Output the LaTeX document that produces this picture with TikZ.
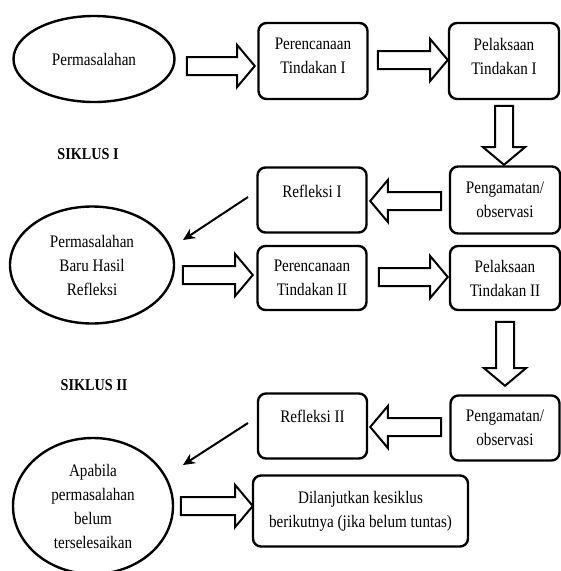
\documentclass[tikz,border=0pt]{standalone}
\usepackage{fontspec}
\setmainfont{Liberation Serif}[FakeStretch=0.86]
\usetikzlibrary{shapes.geometric,shapes.arrows,arrows.meta}
\begin{document}
\begin{tikzpicture}[x=1pt,y=-1pt,
  txt/.style={font=\fontsize{17.6}{24}\selectfont, align=center},
  box/.style={txt, draw, line width=2.4pt, rounded corners=8pt, inner sep=0pt},
  oval/.style={txt, ellipse, draw, line width=2.4pt, inner sep=0pt},
  fat/.style={single arrow, draw, line width=2pt, single arrow tip angle=100,
    single arrow head extend=12pt, minimum width=40pt, inner xsep=0pt, inner ysep=8pt,
    minimum height=#1},
  thin/.style={line width=2pt, -{Stealth[length=12pt,width=11pt]}},
  cyc/.style={font=\fontsize{16.5}{18}\selectfont\bfseries}
]
\useasboundingbox (0,0) rectangle (561,571);

% row 1
\node[oval, minimum width=161pt, minimum height=86pt] (e1) at (94,59) {Permasalahan};
\node[box, minimum width=109pt, minimum height=76pt, text depth=10pt] (b1) at (313,61) {Perencanaan\\Tindakan I};
\node[box, minimum width=110pt, minimum height=76pt, text depth=10pt] (b2) at (504,61) {Pelaksaan\\Tindakan I};

\node[fat=68pt] (a1) at (217,66) {};
\node[fat=70pt] (a2) at (409,60) {};
\node[fat=59pt, rotate=-90] (a3) at (504,131.5) {};

\node[cyc] (s1) at (88,154) {SIKLUS I};

% row 2
\node[box, minimum width=109pt, minimum height=65pt, text depth=17pt] (r1) at (312,200) {Refleksi I};
\node[box, minimum width=110pt, minimum height=67pt] (p1) at (505,200) {Pengamatan/\\observasi};
\node[fat=71pt, rotate=180] (a4) at (409.5,201) {};

\coordinate (t1s) at (248,197);
\coordinate (t1e) at (183,240);
\draw[thin] (t1s) -- (t1e);

% row 3
\node[oval, minimum width=164pt, minimum height=117pt] (e2) at (92,265) {Permasalahan\\Baru Hasil\\Refleksi};
\node[box, minimum width=109pt, minimum height=64pt] (b3) at (312,278) {Perencanaan\\Tindakan II};
\node[box, minimum width=110pt, minimum height=64pt] (b4) at (505,278) {Pelaksaan\\Tindakan II};
\node[fat=70pt] (a5) at (214,275) {};
\node[fat=69pt] (a6) at (409.5,277) {};
\node[fat=64pt, rotate=-90] (a7) at (505,350) {};

\node[cyc] (s2) at (94,385) {SIKLUS II};

% row 4
\node[box, minimum width=109pt, minimum height=65pt, text depth=19pt] (r2) at (312.5,426) {Refleksi II};
\node[box, minimum width=109pt, minimum height=65pt] (p2) at (505,428) {Pengamatan/\\observasi};
\node[fat=71pt, rotate=180] (a8) at (409.5,427) {};

\coordinate (t2s) at (248,423);
\coordinate (t2e) at (183,465);
\draw[thin] (t2s) -- (t2e);

% row 5
\node[oval, minimum width=160pt, minimum height=136pt] (e3) at (93,506) {Apabila\\permasalahan\\belum\\terselesaikan};
\node[box, minimum width=215pt, minimum height=71pt] (d) at (360.5,511) {Dilanjutkan kesiklus\\berikutnya (jika belum tuntas)};
\node[fat=72pt] (a9) at (213,506) {};
\end{tikzpicture}
\end{document}
